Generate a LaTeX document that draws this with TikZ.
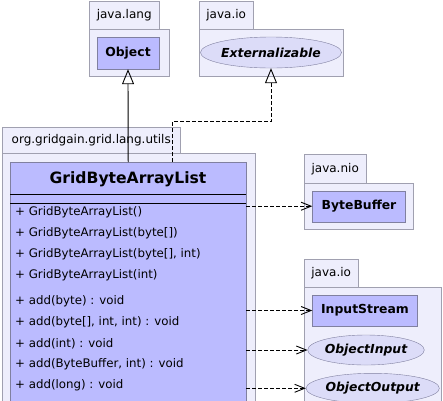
\documentclass[tikz,border=0pt]{standalone}
\usepackage{fontspec}
\setmainfont{DejaVu Sans}
\usetikzlibrary{arrows.meta,shapes.geometric}
\definecolor{pkgfill}{RGB}{238,238,252}
\definecolor{pkgdraw}{RGB}{160,160,176}
\definecolor{clsfill}{RGB}{187,187,255}
\definecolor{clsdraw}{RGB}{128,128,160}
\definecolor{ifcfill}{RGB}{220,220,248}
\tikzset{
  pkgtab/.style={draw=pkgdraw,fill=pkgfill,anchor=north west,inner sep=0pt,font=\fontsize{12}{14}\selectfont},
  pkgbody/.style={draw=pkgdraw,fill=pkgfill,anchor=north west,inner sep=0pt},
  clsbox/.style={draw=clsdraw,fill=clsfill,inner sep=0pt,font=\bfseries\fontsize{12.4}{14}\selectfont},
  ifcell/.style={ellipse,draw=clsdraw,fill=ifcfill,inner sep=0pt,font=\bfseries\itshape\fontsize{12.4}{14}\selectfont},
  meth/.style={anchor=west,inner sep=0pt,font=\fontsize{11.8}{14}\selectfont},
  inh/.style={-{Triangle[open,length=15pt,width=12pt]},line width=0.9pt},
  real/.style={-{Triangle[open,length=15pt,width=12pt]},line width=0.9pt,dash pattern=on 4pt off 2pt},
  dep/.style={-{Straight Barb[length=10pt,width=8pt]},line width=0.9pt,dash pattern=on 4pt off 2pt}
}
\begin{document}
\begin{tikzpicture}[x=1pt,y=-1pt]
\useasboundingbox (0,0) rectangle (443,400);
\clip (0,0) rectangle (443,400);
\fill[white] (0,0) rectangle (443,400);
% java.lang
\node[pkgtab,minimum width=70pt,minimum height=28pt] (langtab) at (89,1) {java.lang};
\node[pkgbody,minimum width=80pt,minimum height=47pt] (langpkg) at (89,29) {};
\node[clsbox,minimum width=62pt,minimum height=32pt] (obj) at (128,53) {Object};
% java.io top
\node[pkgtab,minimum width=54pt,minimum height=28pt] (iotab) at (199,1) {java.io};
\node[pkgbody,minimum width=144pt,minimum height=47pt] (iopkg) at (199,29) {};
\node[ifcell,minimum width=128pt,minimum height=31pt] (ext) at (271,52.5) {Externalizable};
% org.gridgain
\node[pkgtab,minimum width=178pt,minimum height=26pt] (orgtab) at (2,127) {org.gridgain.grid.lang.utils};
\node[pkgbody,minimum width=253pt,minimum height=260pt] (orgpkg) at (2,153) {};
\node[clsbox,anchor=north west,minimum width=236pt,minimum height=250pt] (cls) at (10,162) {};
\node[inner sep=0pt,font=\bfseries\fontsize{15.6}{18}\selectfont] (clsname) at (128,179) {GridByteArrayList};
\draw[line width=0.9pt] (10,194) coordinate (s1a) -- (246,194) coordinate (s1b);
\draw[line width=0.9pt] (10,203.3) coordinate (s2a) -- (246,203.3) coordinate (s2b);
\node[meth] (m1) at (15,212) {+ GridByteArrayList()};
\node[meth] (m2) at (15,233.3) {+ GridByteArrayList(byte[])};
\node[meth] (m3) at (15,254.5) {+ GridByteArrayList(byte[], int)};
\node[meth] (m4) at (15,275.5) {+ GridByteArrayList(int)};
\node[meth] (m5) at (15,301.7) {+ add(byte) : void};
\node[meth] (m6) at (15,322.3) {+ add(byte[], int, int) : void};
\node[meth] (m7) at (15,343.3) {+ add(int) : void};
\node[meth] (m8) at (15,364.7) {+ add(ByteBuffer, int) : void};
\node[meth] (m9) at (15,385.7) {+ add(long) : void};
% java.nio
\node[pkgtab,minimum width=62pt,minimum height=29pt] (niotab) at (304,154) {java.nio};
\node[pkgbody,minimum width=109pt,minimum height=46pt] (niopkg) at (304,183) {};
\node[clsbox,minimum width=93pt,minimum height=31pt] (bb) at (359,206.2) {ByteBuffer};
% java.io bottom
\node[pkgtab,minimum width=54pt,minimum height=28pt] (io2tab) at (304,259) {java.io};
\node[pkgbody,minimum width=137pt,minimum height=130pt] (io2pkg) at (304,287) {};
\node[clsbox,minimum width=105pt,minimum height=31pt] (is) at (365,310.5) {InputStream};
\node[ifcell,minimum width=108pt,minimum height=30pt] (oi) at (366,350) {ObjectInput};
\node[ifcell,minimum width=121pt,minimum height=30pt] (oo) at (372.7,388.3) {ObjectOutput};
% connectors
\draw[inh] (cls.north) -- (obj.south);
\coordinate (rbend) at (172.3,121.7);
\draw[real] (cls.north -| rbend) -- (rbend) -| (ext.south);
\draw[dep] (cls.east |- bb.west) -- (bb.west);
\draw[dep] (cls.east |- is.west) -- (is.west);
\draw[dep] (cls.east |- oi.west) -- (oi.west);
\draw[dep] (cls.east |- oo.west) -- (oo.west);
\end{tikzpicture}
\end{document}
